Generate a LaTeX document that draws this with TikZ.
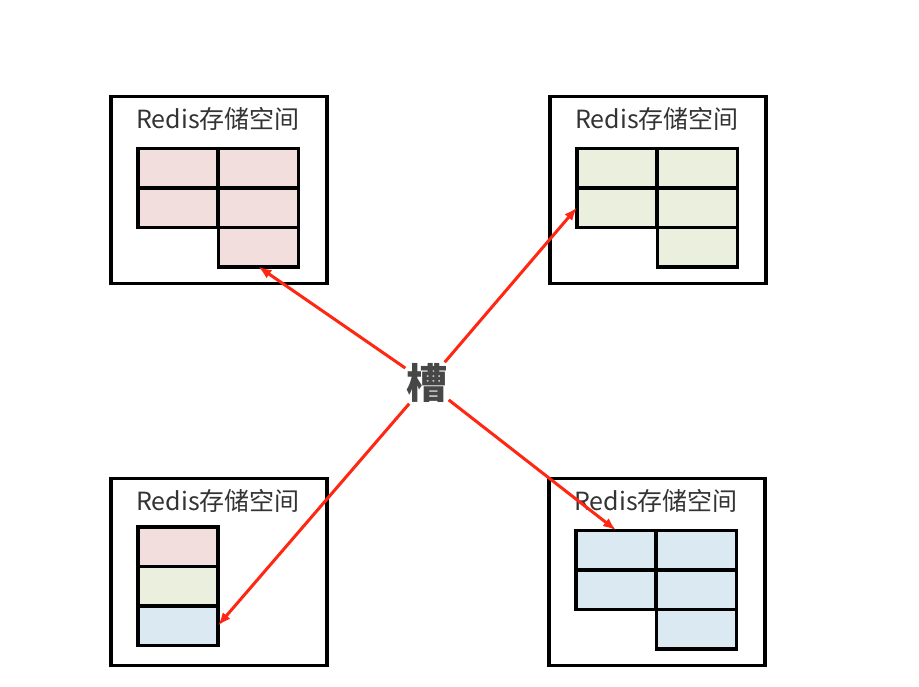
\documentclass[tikz,border=0pt]{standalone}
\usepackage{fontspec}
\newfontfamily\cjk{Noto Sans CJK SC}
\usetikzlibrary{arrows.meta}
\definecolor{pinkcell}{RGB}{242,222,220}
\definecolor{greencell}{RGB}{235,240,222}
\definecolor{bluecell}{RGB}{219,233,242}
\definecolor{linkred}{RGB}{255,38,18}
\definecolor{textgray}{RGB}{51,51,51}
\begin{document}
\begin{tikzpicture} [x=1pt,y=-1pt,
  outerbox/.style={draw,line width=3.5pt,minimum width=216,minimum height=187,inner sep=0},
  title/.style={font=\cjk\fontsize{25}{29}\selectfont,text=textgray,inner sep=0},
  cell/.style={draw,line width=3.5pt,minimum width=80,minimum height=39.5,inner sep=0,outer sep=0},
  slotlabel/.style={font=\cjk\bfseries\fontsize{41}{45}\selectfont,text=textgray!90,inner sep=1pt},
  link/.style={draw=linkred,line width=3pt,-{Latex[length=13pt,width=10pt]}}]
  \useasboundingbox [fill=white] (0,0) rectangle (919,686);

  \foreach \b/\ox/\oy/\c in {tl/111/96/pinkcell,tr/550/96/greencell,br/549/478/bluecell}
     {\node [outerbox] (\b) at (\ox+108,\oy+94) {};
      \node [title] (\b t) at (\ox+107,\oy+23) {Redis存储空间};
      \foreach \i/\dx/\dy in {1/67/72,2/67/111.5,3/147.5/72,4/147.5/111.5,5/147.5/151}
         \node [cell,fill=\c] (\b\i) at (\ox+\dx,\oy+\dy) {};}

  % stacked slots, one of each colour
  \node [outerbox] (bl) at (219,572) {};
  \node [title] (blt) at (218,501) {Redis存储空间};
  \foreach \i/\c in {1/pinkcell,2/greencell,3/bluecell}
     \node [cell,fill=\c] (bl\i) at (178,507+39.5*\i) {};

  \node [slotlabel] (slot) at (427,383) {槽};
  \draw [link] (slot) -- (tl5.south);
  \draw [link] (slot) -- (tr2.west);
  \draw [link] (slot) -- (bl3.east);
  \draw [link] (slot) -- (br1.north);

\end{tikzpicture}
\end{document}
